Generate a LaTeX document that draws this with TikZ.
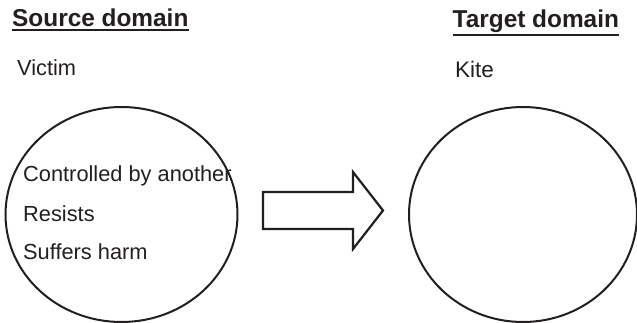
\documentclass[tikz,border=0pt]{standalone}
\usepackage{fontspec}
\setmainfont{Liberation Sans}
\definecolor{ink}{HTML}{231F20}
\begin{document}
\begin{tikzpicture}[x=1pt,y=-1pt,
  titletext/.style={anchor=base west,inner sep=0pt,font=\fontsize{24.4}{28}\selectfont\bfseries,text=ink},
  labeltext/.style={anchor=base west,inner sep=0pt,font=\fontsize{21.8}{25}\selectfont,text=ink},
  uline/.style={draw=ink,line width=2pt},
  domaincircle/.style={draw=ink,line width=2pt},
  bigarrow/.style={draw=ink,line width=2.2pt,line join=miter,fill=white}]
\useasboundingbox (0,0) rectangle (637,323);
% titles
\node[titletext] (src) at (12,27) {Source domain};
\draw[uline] ([yshift=-3pt]src.south west) -- ([yshift=-3pt]src.south east);
\node[titletext] (tgt) at (452.5,27.5) {Target domain};
\draw[uline] ([yshift=-2.3pt]tgt.south west) -- ([yshift=-2.3pt]tgt.south east);
% domain names
\node[labeltext] (victim) at (17,76) {Victim};
\node[labeltext,font=\fontsize{22.5}{26}\selectfont] (kite) at (455,78) {Kite};
% attributes
\node[labeltext] (a1) at (23,182) {Controlled by another};
\node[labeltext] (a2) at (23,222) {Resists};
\node[labeltext] (a3) at (23,259) {Suffers harm};
% circles
\draw[domaincircle] (121.5,214.5) ellipse [x radius=116,y radius=107.5];
\draw[domaincircle] (523,214.5) ellipse [x radius=114,y radius=107.5];
% arrow
\draw[bigarrow] (263,192) -- (353,192) -- (353,172) -- (383,210.5) -- (353,249) -- (353,229) -- (263,229) -- cycle;
\end{tikzpicture}
\end{document}
